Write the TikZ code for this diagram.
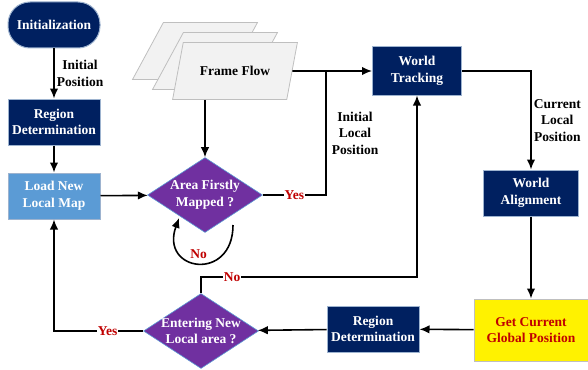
\documentclass[tikz,border=0pt]{standalone}
\usepackage{fontspec}
\setmainfont{Liberation Serif}
\usetikzlibrary{shapes,arrows,arrows.meta,positioning}
\definecolor{navy}{HTML}{002060}
\definecolor{boxline}{HTML}{9DB3CF}
\definecolor{purp}{HTML}{7030A0}
\definecolor{lblue}{HTML}{5B9BD5}
\definecolor{darkred}{HTML}{C00000}
\definecolor{flowfill}{HTML}{F2F2F2}
\definecolor{flowline}{HTML}{BFBFBF}

\begin{document}
\begin{tikzpicture}[x=1pt, y=-1pt, -{Latex[length=10pt, width=8.5pt]}, on grid, line width=1.6pt, font=\bfseries\fontsize{13.5}{16.5}\selectfont, block/.style = {draw=boxline, line width=1pt, fill=navy, text=white, align=center, minimum width=92pt, minimum height=46pt, inner sep=1pt}, lblock/.style = {block, fill=lblue}, start/.style = {block, rounded corners=22pt}, goal/.style = {block, fill=yellow, draw=flowline, text=darkred, minimum width=114pt, minimum height=62pt}, decision/.style = {diamond, aspect=1.5, draw=lblue, line width=0.6pt, fill=purp, text=white, align=center, minimum width=115pt, minimum height=75pt, inner sep=-6pt}, flow/.style = {trapezium, trapezium left angle=64, trapezium right angle=116, trapezium stretches=true, minimum width=125pt, minimum height=57pt, draw=flowline, fill=flowfill, line width=0.8pt}, lbl/.style = {align=center, inner sep=2pt}, yes/.style = {text=darkred, fill=white, inner sep=1pt}]
\useasboundingbox (0,0) rectangle (588,369);
\node[start] (I) at (54,25) {Initialization};
\node[block, below=97pt of I] (R) {Region\\Determination};
\node[lblock, below=74pt of R] (L) {Load New\\Local Map};
\node[decision] (D1) at (205,195) {Area Firstly\\Mapped ?};
\node[flow] (F3) at (195,51) {};
\node[flow] (F2) at (215,61) {};
\node[flow] (F1) at (235,71) {Frame Flow};
\node[block, minimum width=89pt, minimum height=48pt] (T) at (417,71) {World\\Tracking};
\node[block, minimum width=95pt] (W) at (531,193) {World\\Alignment};
\node[goal] (G) at (531,330) {Get Current\\Global Position};
\node[block] (R2) at (373,329) {Region\\Determination};
\node[decision] (D2) at (201,331) {Entering New\\Local area ?};
\coordinate (J) at (326,71);
\coordinate (C) at (233,225);
\coordinate (K) at (417,277);

% left column
\draw (I) -- node[lbl, right]{Initial\\Position} (R);
\draw (R) -- (L);
\draw (L) -- (D1);
\draw (F1.south -| D1) -- (D1);
\draw (C) to[out=-90, in=-110, looseness=2.7] node[yes, pos=0.5, above=3pt]{No} ([xshift=3pt, yshift=-4pt]D1.south west);

% to the tracking
\draw[-] (D1) -- node[yes]{Yes} (D1 -| J) -- node[lbl, right=3pt]{Initial\\Local\\Position} (J);
\draw (F1.east) -- (T);
\draw (T) -| node[lbl, pos=0.75, right]{Current\\Local\\Position} (W);
\draw (W) -- (G);

% back round
\draw (G) -- (R2);
\draw (R2) -- (D2);
\draw (D2) -| node[yes, pos=0.2]{Yes} (L);
\draw (D2) |- node[yes, pos=0.572]{No} (K) -- (T);
\end{tikzpicture}
\end{document}
